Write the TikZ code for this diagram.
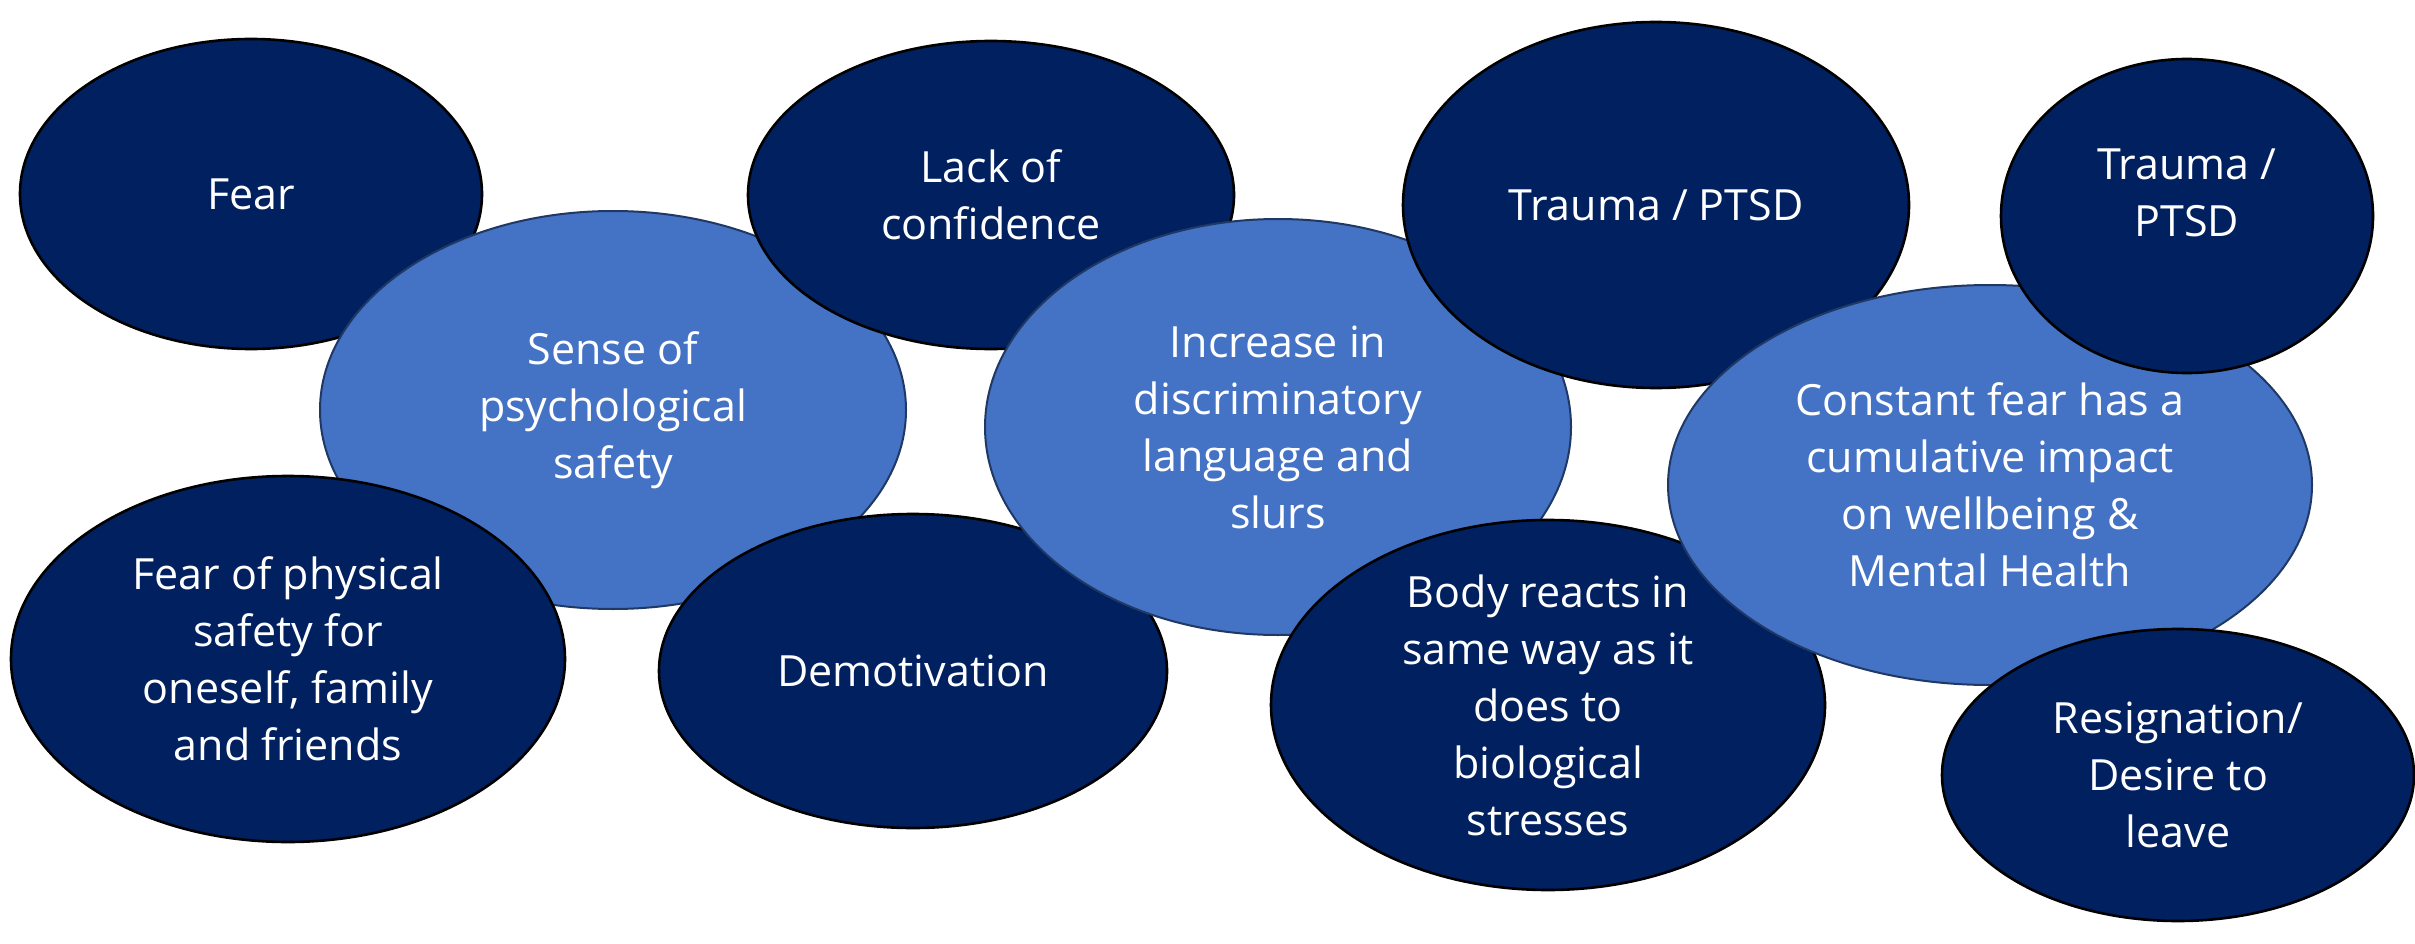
\documentclass[tikz,border=0pt]{standalone}
\usepackage{fontspec}
\setmainfont{Open Sans}
\usetikzlibrary{shapes.geometric}
\definecolor{darkblue}{HTML}{002060}
\definecolor{lightblue}{HTML}{4472C4}
\definecolor{lightedge}{HTML}{1F3864}
\tikzset{
  bubbletext/.style={align=center, text=white, inner sep=0pt,
    font=\fontsize{43}{57}\selectfont},
  bubble/.style={ellipse, bubbletext},
  darkbubble/.style={bubble, fill=darkblue, draw=black, line width=2.6pt},
  lightbubble/.style={bubble, fill=lightblue, draw=lightedge, line width=2pt},
}
\begin{document}
\begin{tikzpicture}[x=1pt, y=-1pt]
\useasboundingbox (0,0) rectangle (2415,944);
% back to front
\node[darkbubble, minimum width=462pt, minimum height=310pt] (fear) at (251,194) {Fear};
\node[lightbubble, minimum width=586pt, minimum height=398pt] (safety) at (613,410) {Sense of\\psychological\\safety};
\node[darkbubble, minimum width=486pt, minimum height=308pt] (confidence) at (991,195) {Lack of\\confidence};
\node[darkbubble, minimum width=554pt, minimum height=366pt] (physical) at (288,659) {Fear of physical\\safety for\\oneself, family\\and friends};
\node[darkbubble, minimum width=508pt, minimum height=314pt] (demotivation) at (913,671) {Demotivation};
\node[lightbubble, minimum width=586pt, minimum height=416pt] (language) at (1278,427) {Increase in\\discriminatory\\language and\\slurs};
\node[darkbubble, minimum width=506pt, minimum height=366pt] (traumaA) at (1656,205) {Trauma / PTSD};
\node[darkbubble, minimum width=554pt, minimum height=370pt] (body) at (1548,705) {Body reacts in\\same way as it\\does to\\biological\\stresses};
\node[lightbubble, minimum width=644pt, minimum height=400pt] (constant) at (1990,485) {Constant fear has a\\cumulative impact\\on wellbeing \&\\Mental Health};
% the upper-right bubble carries its text a little above centre
\node[darkbubble, minimum width=372pt, minimum height=314pt] (traumaB) at (2187,216) {};
\node[bubbletext] (traumaBtext) at ([yshift=23pt]traumaB.center) {Trauma /\\PTSD};
\node[darkbubble, minimum width=472pt, minimum height=292pt] (resignation) at (2178,775) {Resignation/\\Desire to\\leave};
\end{tikzpicture}
\end{document}
